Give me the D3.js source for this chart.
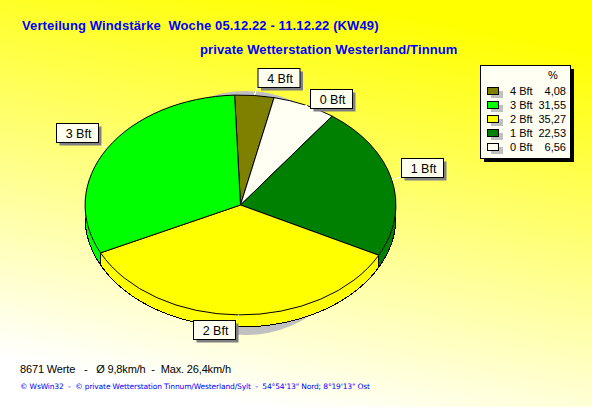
<!DOCTYPE html>
<html><head><meta charset="utf-8">
<script src="https://cdn.jsdelivr.net/npm/d3@7"></script>
<style>
html,body{margin:0;padding:0;background:#fff}
svg{display:block}
text{font-family:"Liberation Sans",Arial,sans-serif;white-space:pre}
</style></head><body>
<svg id="c" width="592" height="407"></svg>
<script>
const categories = ["4 Bft","0 Bft","1 Bft","2 Bft","3 Bft"];
const values = [4.08,6.56,22.53,35.27,31.55];
const colors = ["#808000","#fffff4","#008000","#ffff00","#00ff00"];
const legendOrder = ["4 Bft","3 Bft","2 Bft","1 Bft","0 Bft"];
const valueLabels = {"4 Bft":"4,08","3 Bft":"31,55","2 Bft":"35,27","1 Bft":"22,53","0 Bft":"6,56"};
const title1 = "Verteilung Windstärke  Woche 05.12.22 - 11.12.22 (KW49)";
const title2 = "private Wetterstation Westerland/Tinnum";
const stats = "8671 Werte   -   Ø 9,8km/h  -  Max. 26,4km/h";
const footer = "© WsWin32  -  © private Wetterstation Tinnum/Westerland/Sylt  -  54°54'13\" Nord; 8°19'13\" Ost";

const svg = d3.select("#c");
const defs = svg.append("defs");
const g = defs.append("linearGradient").attr("id","bg").attr("gradientUnits","userSpaceOnUse")
  .attr("x1",340).attr("y1",0).attr("x2",260).attr("y2",407);
g.append("stop").attr("offset",0).attr("stop-color","#ffff00");
g.append("stop").attr("offset",1).attr("stop-color","#ffffff");
svg.append("rect").attr("width",592).attr("height",407).attr("fill","url(#bg)");

const cx=240.5, cy=205, rx=155.5, ry=110, depth=12;
const start = -2.2*Math.PI/180;
const pie = d3.pie().sort(null).value(d=>d).startAngle(start).endAngle(start+2*Math.PI);
const arcs = pie(values);
const px = a=>cx+rx*Math.sin(a), py=a=>cy-ry*Math.cos(a);

// shadow
svg.append("ellipse").attr("cx",246).attr("cy",213).attr("rx",118).attr("ry",122).attr("fill","#c0c0c0");

// side walls
const side = d3.area().x(px).y0(py).y1(a=>py(a)+depth);
const outline = d3.line().x(px).y(a=>py(a)+depth);
arcs.forEach((d,i)=>{
  const a0=Math.max(d.startAngle,Math.PI/2), a1=Math.min(d.endAngle,Math.PI*1.5);
  if(a1<=a0) return;
  const pts=d3.range(0,61).map(k=>a0+(a1-a0)*k/60);
  svg.append("path").attr("d",side(pts)).attr("fill",colors[i]).attr("stroke","none");
  svg.append("path").attr("d",outline(pts)).attr("fill","none").attr("stroke","#000").attr("shape-rendering","crispEdges");
  if(a0>Math.PI/2) svg.append("line").attr("x1",px(a0)).attr("x2",px(a0)).attr("y1",py(a0)).attr("y2",py(a0)+depth).attr("stroke","#000").attr("shape-rendering","crispEdges");
});

// top faces
const arcGen = d3.arc().innerRadius(0).outerRadius(1);
svg.append("g").attr("transform",`translate(${cx},${cy}) scale(${rx},${ry})`)
 .selectAll("path").data(arcs).join("path")
 .attr("d",arcGen).attr("fill",(d,i)=>colors[i]).attr("stroke","#000")
 .attr("stroke-width",1).attr("vector-effect","non-scaling-stroke").attr("shape-rendering","crispEdges");

// labels: box top-left and where the leader meets the box
const labelLayout = {
 "4 Bft":{x:258,y:68.5,lx:257,ly:87},
 "0 Bft":{x:310.5,y:89.5,lx:310,ly:108},
 "1 Bft":{x:401.5,y:158.5,lx:401,ly:177},
 "2 Bft":{x:193.5,y:320.5,lx:236.5,ly:320},
 "3 Bft":{x:56.5,y:123.5,lx:99,ly:142}
};
const bw=42, bh=19;
arcs.forEach((d,i)=>{
  const name=categories[i], L=labelLayout[name], m=(d.startAngle+d.endAngle)/2;
  svg.append("line").attr("x1",px(m)).attr("y1",py(m)).attr("x2",L.lx).attr("y2",L.ly).attr("stroke","#fff").attr("shape-rendering","crispEdges");
});
arcs.forEach((d,i)=>{
  const name=categories[i], L=labelLayout[name];
  svg.append("rect").attr("x",L.x+3).attr("y",L.y+3).attr("width",bw).attr("height",bh).attr("fill","#808080");
  svg.append("rect").attr("x",L.x).attr("y",L.y).attr("width",bw).attr("height",bh).attr("fill","#fffff0").attr("stroke","#000");
  svg.append("text").attr("x",L.x+bw/2+1).attr("y",L.y+14).attr("text-anchor","middle").attr("font-size",12.5).attr("fill","#000").text(name);
});

// titles
svg.append("text").attr("x",22).attr("y",30).attr("font-size",13).attr("font-weight","bold").attr("letter-spacing",0.12).attr("fill","#0000ff").text(title1);
svg.append("text").attr("x",200).attr("y",54).attr("font-size",13).attr("font-weight","bold").attr("letter-spacing",0.12).attr("fill","#0000ff").text(title2);

// legend
svg.append("rect").attr("x",484).attr("y",69).attr("width",90).attr("height",93).attr("fill","#000");
svg.append("rect").attr("x",480.5).attr("y",65.5).attr("width",90).attr("height",93).attr("fill","#fffff4").attr("stroke","#000");
svg.append("text").attr("x",553).attr("y",79).attr("text-anchor","middle").attr("font-size",11).attr("fill","#000").text("%");
const rowY = d3.scalePoint().domain(legendOrder).range([95,151]);
legendOrder.forEach(name=>{
  const y=rowY(name), col=colors[categories.indexOf(name)];
  svg.append("rect").attr("x",491).attr("y",y-4).attr("width",12).attr("height",7).attr("fill","#c0c0c0");
  svg.append("rect").attr("x",487.5).attr("y",y-7.5).attr("width",11).attr("height",7).attr("fill",col).attr("stroke","#000");
  svg.append("text").attr("x",510).attr("y",y).attr("font-size",11).attr("fill","#000").text(name);
  svg.append("text").attr("x",566).attr("y",y).attr("text-anchor","end").attr("font-size",11).attr("fill","#000").text(valueLabels[name]);
});

// footer
svg.append("text").attr("x",20).attr("y",373).attr("font-size",11).attr("textLength",211).attr("fill","#000").text(stats);
svg.append("text").attr("x",20).attr("y",389).attr("font-size",7.5).attr("textLength",350).attr("style","font-family:'DejaVu Sans'").attr("fill","#0000ff").text(footer);
</script></body></html>
